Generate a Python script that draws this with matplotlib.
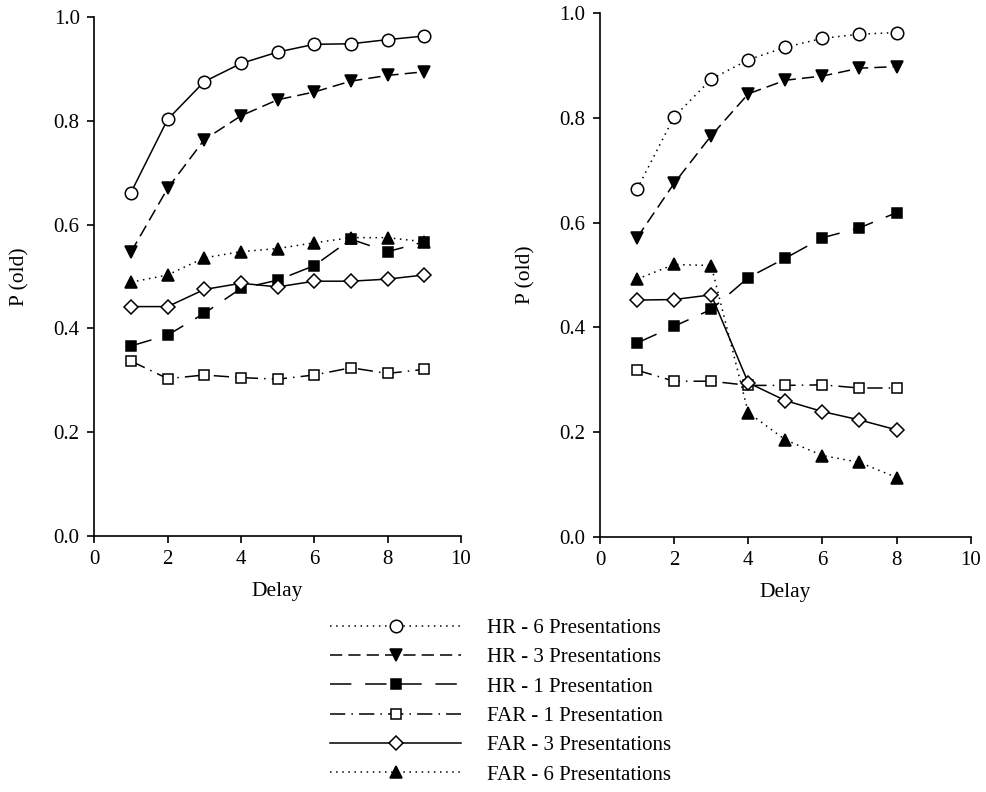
import matplotlib
matplotlib.use("Agg")
import matplotlib.pyplot as plt

plt.rcParams['font.family'] = ['Liberation Serif', 'DejaVu Serif']
plt.rcParams['font.size'] = 15

# left panel: delays 1..9
delay_left = [1, 2, 3, 4, 5, 6, 7, 8, 9]
hr6_left = [0.662, 0.803, 0.876, 0.911, 0.933, 0.948, 0.949, 0.957, 0.964]
hr3_left = [0.547, 0.670, 0.764, 0.810, 0.841, 0.856, 0.877, 0.888, 0.895]
hr1_left = [0.366, 0.387, 0.429, 0.477, 0.493, 0.521, 0.572, 0.548, 0.567]
far1_left = [0.337, 0.303, 0.310, 0.305, 0.302, 0.310, 0.324, 0.313, 0.321]
far3_left = [0.442, 0.442, 0.475, 0.487, 0.480, 0.491, 0.491, 0.495, 0.503]
far6_left = [0.489, 0.503, 0.536, 0.548, 0.554, 0.565, 0.575, 0.575, 0.567]

# right panel: delays 1..8
delay_right = [1, 2, 3, 4, 5, 6, 7, 8]
hr6_right = [0.664, 0.802, 0.874, 0.911, 0.935, 0.952, 0.960, 0.963]
hr3_right = [0.571, 0.675, 0.766, 0.846, 0.872, 0.880, 0.895, 0.898]
hr1_right = [0.370, 0.402, 0.434, 0.495, 0.532, 0.571, 0.590, 0.619]
far1_right = [0.318, 0.297, 0.297, 0.289, 0.289, 0.290, 0.284, 0.284]
far3_right = [0.452, 0.453, 0.462, 0.294, 0.260, 0.239, 0.223, 0.204]
far6_right = [0.492, 0.520, 0.518, 0.237, 0.185, 0.155, 0.142, 0.113]

labels = ["HR - 6 Presentations", "HR - 3 Presentations", "HR - 1 Presentation",
          "FAR - 1 Presentation", "FAR - 3 Presentations", "FAR - 6 Presentations"]

dotted = (0, (1, 3))
dashed = (0, (8, 4))
longdash = (0, (14, 9))
dashdot = (0, (10, 4, 1, 4))

styles = [
    dict(marker='o', mfc='white', ms=9),
    dict(marker='v', mfc='black', ms=9),
    dict(marker='s', mfc='black', ms=7.5),
    dict(marker='s', mfc='white', ms=7.5),
    dict(marker='D', mfc='white', ms=7.5),
    dict(marker='^', mfc='black', ms=9),
]

fig = plt.figure(figsize=(9.86, 7.92), dpi=100)
ax1 = fig.add_axes([0.0956, 0.3236, 0.3719, 0.6545])
ax2 = fig.add_axes([0.6085, 0.3224, 0.376, 0.6609])

left_data = [hr6_left, hr3_left, hr1_left, far1_left, far3_left, far6_left]
left_ls = ['-', dashed, longdash, dashdot, '-', dotted]
for vals, ls, st in zip(left_data, left_ls, styles):
    ax1.plot(delay_left, vals, color='black', lw=1.1, ls=ls, mec='black', mew=1.1, **st)

right_data = [hr6_right, hr3_right, hr1_right, far1_right, far3_right, far6_right]
right_ls = [dotted, dashed, longdash, dashdot, '-', dotted]
handles = []
for vals, ls, st, lab in zip(right_data, right_ls, styles, labels):
    h, = ax2.plot(delay_right, vals, color='black', lw=1.1, ls=ls, mec='black', mew=1.1,
                  label=lab, **st)
    handles.append(h)

for ax in (ax1, ax2):
    ax.set_xlim(0, 10)
    ax.set_ylim(0, 1.0)
    ax.set_xticks([0, 2, 4, 6, 8, 10])
    ax.set_yticks([0.0, 0.2, 0.4, 0.6, 0.8, 1.0])
    ax.set_yticklabels(["0.0", "0.2", "0.4", "0.6", "0.8", "1.0"])
    ax.spines['top'].set_visible(False)
    ax.spines['right'].set_visible(False)
    ax.spines['left'].set_linewidth(1.2)
    ax.spines['bottom'].set_linewidth(1.2)
    ax.tick_params(direction='out', length=5, width=1.2, labelsize=15, pad=5.5)
    ax.set_xlabel("Delay", fontsize=15.5, labelpad=9)
    ax.set_ylabel("P (old)", fontsize=15.5, labelpad=17)
    for sp in ax.spines.values():
        sp.set_clip_on(False)

fig.legend(handles=handles, loc='center', bbox_to_anchor=(0.508, 0.1143),
           frameon=False, numpoints=1, handlelength=6.3, handletextpad=1.25,
           labelspacing=0.47, fontsize=15)

fig.savefig("out.png", dpi=100)
